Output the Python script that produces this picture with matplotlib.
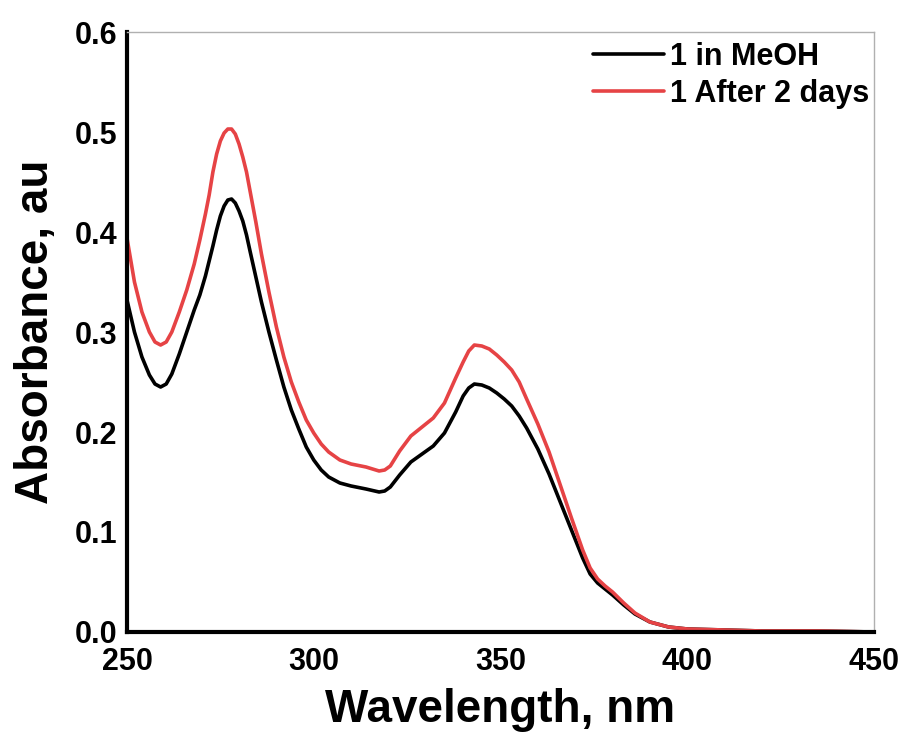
import numpy as np
import matplotlib.pyplot as plt

# wavelength (nm) and absorbance
wl = [250, 252, 254, 256, 257.5, 259, 260.5, 262, 264, 266, 268, 269.5, 271, 272,
      273, 274, 275, 276, 277, 278, 279, 280, 281, 282, 283, 284.5, 286, 288, 290,
      292, 294, 296, 298, 300, 302, 304, 307, 310, 314, 317.5, 319, 320.5, 323,
      326, 329, 332, 335, 338, 340, 341.5, 343, 345, 347, 349, 351, 353, 355, 357,
      360, 363, 366, 369, 372, 374, 376, 378, 380, 383, 386, 390, 395, 400, 410,
      420, 435, 450]

abs_meoh = [0.332, 0.300, 0.275, 0.257, 0.248, 0.245, 0.248, 0.258, 0.278, 0.300,
            0.322, 0.337, 0.356, 0.371, 0.386, 0.402, 0.416, 0.426, 0.432, 0.433,
            0.429, 0.421, 0.411, 0.397, 0.380, 0.355, 0.330, 0.300, 0.272, 0.245,
            0.222, 0.203, 0.185, 0.172, 0.162, 0.155, 0.149, 0.146, 0.143, 0.140,
            0.141, 0.145, 0.157, 0.170, 0.178, 0.186, 0.199, 0.220, 0.236, 0.244,
            0.248, 0.247, 0.244, 0.239, 0.233, 0.226, 0.216, 0.204, 0.183, 0.158,
            0.130, 0.102, 0.074, 0.058, 0.049, 0.043, 0.037, 0.027, 0.018, 0.010,
            0.005, 0.003, 0.002, 0.001, 0.001, 0.000]

abs_2days = [0.394, 0.350, 0.320, 0.300, 0.290, 0.287, 0.290, 0.300, 0.320, 0.342,
             0.368, 0.392, 0.418, 0.437, 0.460, 0.478, 0.491, 0.499, 0.503, 0.503,
             0.498, 0.488, 0.475, 0.460, 0.440, 0.410, 0.378, 0.340, 0.305, 0.275,
             0.250, 0.230, 0.212, 0.199, 0.188, 0.180, 0.172, 0.168, 0.165, 0.161,
             0.162, 0.166, 0.181, 0.196, 0.205, 0.214, 0.229, 0.254, 0.270, 0.281,
             0.287, 0.286, 0.283, 0.277, 0.270, 0.262, 0.250, 0.233, 0.208, 0.180,
             0.147, 0.114, 0.082, 0.064, 0.053, 0.046, 0.040, 0.029, 0.019, 0.010,
             0.005, 0.003, 0.002, 0.001, 0.001, 0.000]

labels = ['1 in MeOH', '1 After 2 days']
colors = ['black', '#e64345']

xticks = [250, 300, 350, 400, 450]
yticks = [0.0, 0.1, 0.2, 0.3, 0.4, 0.5, 0.6]

plt.rcParams['font.family'] = ['Liberation Sans', 'DejaVu Sans']
plt.rcParams['font.weight'] = 'bold'

fig = plt.figure(figsize=(9.09, 7.33), dpi=100)
ax = fig.add_axes([0.1397, 0.1378, 0.8218, 0.8185])

ax.plot(wl, abs_meoh, color=colors[0], lw=2.6, label=labels[0],
        solid_capstyle='round', solid_joinstyle='round')
ax.plot(wl, abs_2days, color=colors[1], lw=2.6, label=labels[1],
        solid_capstyle='round', solid_joinstyle='round')

ax.set_xlim(250, 450)
ax.set_ylim(0, 0.6)
ax.set_xticks(xticks)
ax.set_yticks(yticks)
ax.set_yticklabels([f'{v:.1f}' for v in yticks])
ax.tick_params(length=0, labelsize=22)
ax.tick_params(axis='x', pad=11)
ax.tick_params(axis='y', pad=7)

for side in ['left', 'bottom']:
    ax.spines[side].set_linewidth(3)
    ax.spines[side].set_color('black')
for side in ['top', 'right']:
    ax.spines[side].set_linewidth(1)
    ax.spines[side].set_color('#b0b0b0')

ax.set_xlabel('Wavelength, nm', fontsize=33, fontweight='bold', labelpad=8)
ax.set_ylabel('Absorbance, au', fontsize=33, fontweight='bold', labelpad=12)

ax.legend(loc='upper right', bbox_to_anchor=(1.03, 1.03), frameon=False,
          fontsize=22, handlelength=2.3, handletextpad=0.2, labelspacing=0.25)

fig.savefig('out.png', dpi=100)
